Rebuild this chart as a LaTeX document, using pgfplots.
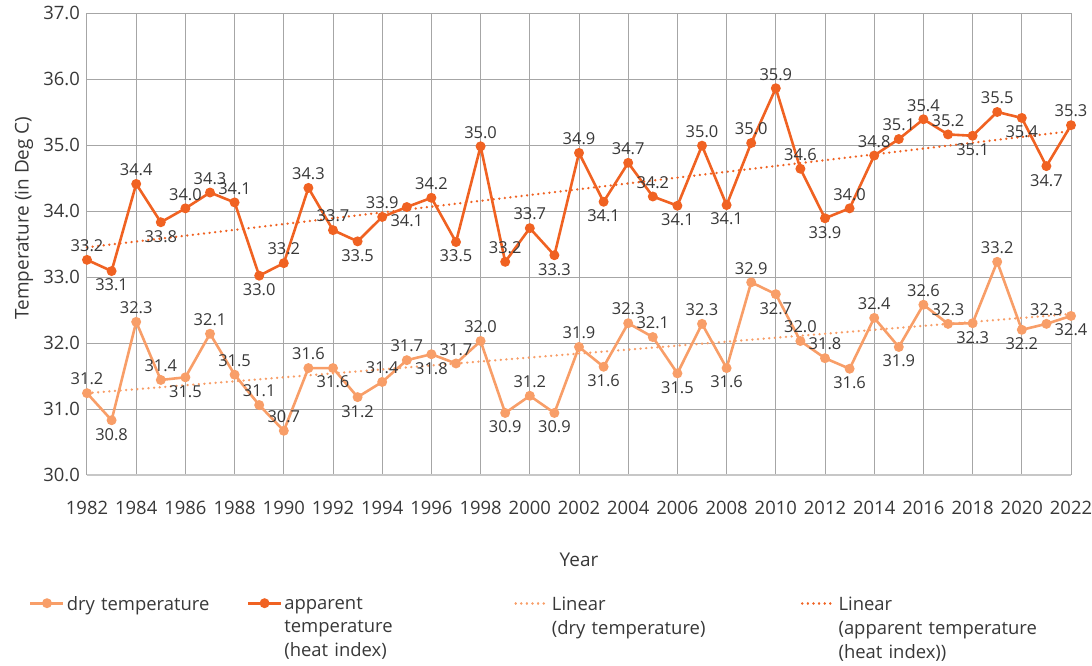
\documentclass[border=0pt]{standalone}
\usepackage{fontspec}
\setmainfont{Open Sans}
\usepackage{pgfplots}
\usepackage{pgfplotstable}
\pgfplotsset{compat=1.18}

\definecolor{dryc}{RGB}{248,158,104}
\definecolor{appc}{RGB}{240,98,34}
\definecolor{txt}{RGB}{56,56,56}

% year, plotted value, label value, label anchor angle (270 = above, 90 = below)
\pgfplotstableread{
yr   t     lbl  pos
1982 31.24 31.2 270
1983 30.83 30.8 90
1984 32.32 32.3 270
1985 31.44 31.4 270
1986 31.48 31.5 90
1987 32.14 32.1 270
1988 31.52 31.5 270
1989 31.06 31.1 270
1990 30.67 30.7 270
1991 31.62 31.6 270
1992 31.62 31.6 90
1993 31.18 31.2 90
1994 31.41 31.4 270
1995 31.74 31.7 270
1996 31.83 31.8 90
1997 31.69 31.7 270
1998 32.03 32.0 270
1999 30.94 30.9 90
2000 31.20 31.2 270
2001 30.94 30.9 90
2002 31.94 31.9 270
2003 31.64 31.6 90
2004 32.30 32.3 270
2005 32.09 32.1 270
2006 31.54 31.5 90
2007 32.29 32.3 270
2008 31.62 31.6 90
2009 32.92 32.9 270
2010 32.74 32.7 90
2011 32.03 32.0 270
2012 31.77 31.8 270
2013 31.61 31.6 90
2014 32.38 32.4 270
2015 31.94 31.9 90
2016 32.58 32.6 270
2017 32.29 32.3 270
2018 32.30 32.3 90
2019 33.23 33.2 270
2020 32.20 32.2 90
2021 32.29 32.3 270
2022 32.41 32.4 90
}\drytab

\pgfplotstableread{
yr   t     lbl  pos
1982 33.26 33.2 270
1983 33.09 33.1 90
1984 34.41 34.4 270
1985 33.83 33.8 90
1986 34.04 34.0 270
1987 34.28 34.3 270
1988 34.13 34.1 270
1989 33.02 33.0 90
1990 33.21 33.2 270
1991 34.35 34.3 270
1992 33.71 33.7 270
1993 33.54 33.5 90
1994 33.91 33.9 270
1995 34.06 34.1 90
1996 34.20 34.2 270
1997 33.53 33.5 90
1998 34.98 35.0 270
1999 33.23 33.2 270
2000 33.74 33.7 270
2001 33.33 33.3 90
2002 34.88 34.9 270
2003 34.14 34.1 90
2004 34.73 34.7 270
2005 34.22 34.2 270
2006 34.08 34.1 90
2007 34.99 35.0 270
2008 34.09 34.1 90
2009 35.03 35.0 270
2010 35.86 35.9 270
2011 34.64 34.6 270
2012 33.89 33.9 90
2013 34.04 34.0 270
2014 34.84 34.8 270
2015 35.09 35.1 270
2016 35.39 35.4 270
2017 35.16 35.2 270
2018 35.14 35.1 90
2019 35.50 35.5 270
2020 35.41 35.4 90
2021 34.68 34.7 90
2022 35.30 35.3 270
}\apptab

\begin{document}
\begin{tikzpicture}
\begin{axis}[at={(0,0)}, anchor=south west,
  scale only axis, width=984bp, height=462bp,
  xmin=1982, xmax=2022, ymin=30, ymax=37,
  xtick={1982,1984,...,2022}, ytick={30,31,...,37},
  clip=false,
  axis line style={draw=none}, tick style={draw=none},
  grid=major, major grid style={black!35, line width=1bp},
  /pgf/number format/assume math mode=true,
  tick label style={font=\fontsize{18.5}{22}\selectfont, text=txt, inner sep=0pt},
  xticklabel style={/pgf/number format/1000 sep={}, anchor=center, yshift=-33bp},
  yticklabel style={/pgf/number format/.cd, fixed, fixed zerofill, precision=1, /tikz/.cd, anchor=east, xshift=-7bp},
  xlabel={Year}, ylabel={Temperature (in Deg C)},
  every axis x label/.style={at={(axis description cs:0.5,-0.184)}, anchor=center, font=\fontsize{19}{22}\selectfont, text=txt},
  every axis y label/.style={at={(axis description cs:-0.064,0.556)}, rotate=90, anchor=center, font=\fontsize{19}{22}\selectfont, text=txt},
  legend columns=4,
  legend style={at={(axis description cs:0,0)}, anchor=north west, xshift=-58bp, yshift=-119.5bp,
    draw=none, fill=none, inner sep=0pt, font=\fontsize{18.5}{24}\selectfont, text=txt,
    cells={anchor=north west, inner sep=0pt, align=left},
    /tikz/every odd column/.append style={column sep=0bp}},
  legend image code/.code={\draw[mark repeat=2,mark phase=2] plot coordinates {(0bp,-8.5bp) (16.5bp,-8.5bp) (33bp,-8.5bp)};},
  every node near coord/.append style={font=\fontsize{16.5}{19}\selectfont, text=txt, inner sep=0pt, outer sep=8bp},
]
\addplot[dryc, line width=2.6bp, mark=*, mark size=3.6bp,
  nodes near coords={\pgfmathprintnumber[fixed,fixed zerofill,precision=1]{\pgfplotspointmeta}},
  point meta=explicit, visualization depends on={\thisrow{pos} \as \lpos},
  every node near coord/.append style={anchor=\lpos}]
  table[x=yr, y=t, meta=lbl] {\drytab};
\addlegendentry[text width=178bp]{dry temperature}
\addplot[appc, line width=2.6bp, mark=*, mark size=3.6bp,
  nodes near coords={\pgfmathprintnumber[fixed,fixed zerofill,precision=1]{\pgfplotspointmeta}},
  point meta=explicit, visualization depends on={\thisrow{pos} \as \lpos},
  every node near coord/.append style={anchor=\lpos}]
  table[x=yr, y=t, meta=lbl] {\apptab};
\addlegendentry[text width=228bp]{apparent\\temperature\\(heat index)}
\addplot[dryc, line width=2.6bp, line cap=round, dash pattern=on 0.01bp off 5.6bp]
  coordinates {(1982,31.24) (2022,32.44)};
\addlegendentry[text width=247bp]{Linear\\(dry temperature)}
\addplot[appc, line width=2.6bp, line cap=round, dash pattern=on 0.01bp off 5.6bp]
  coordinates {(1982,33.45) (2022,35.21)};
\addlegendentry[text width=240bp]{Linear\\(apparent temperature\\(heat index))}
\draw[black!22, line width=1.3bp] (rel axis cs:0,0) -- (rel axis cs:1,0);
\end{axis}
\pgfresetboundingbox
\path[use as bounding box] (-87bp,-191bp) rectangle (1005bp,475bp);
\end{tikzpicture}
\end{document}
